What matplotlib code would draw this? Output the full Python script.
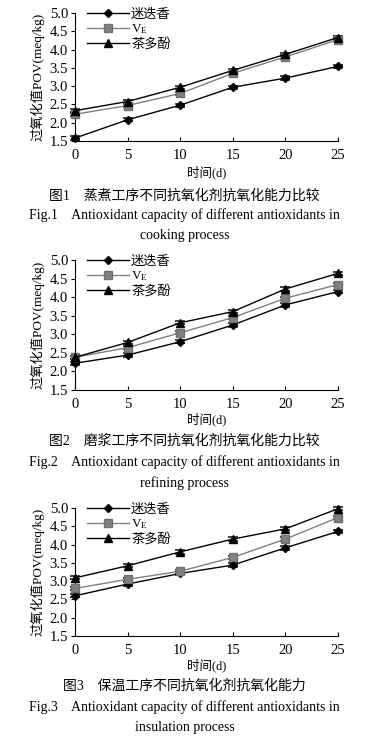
import matplotlib
matplotlib.use('Agg')
import matplotlib.pyplot as plt
from matplotlib.lines import Line2D

plt.rcParams['font.family'] = ['Liberation Serif', 'Noto Sans CJK SC', 'DejaVu Sans']
plt.rcParams['mathtext.fontset'] = 'custom'
plt.rcParams['mathtext.rm'] = 'Liberation Serif'
plt.rcParams['mathtext.it'] = 'Liberation Serif'

# 数据
dias = [0, 5, 10, 15, 20, 25]
series_names = ['迷迭香', 'V$_{\\rm E}$', '茶多酚']

# 图1 蒸煮
cocc_romero = [1.58, 2.08, 2.48, 2.97, 3.22, 3.54]
cocc_ve = [2.23, 2.47, 2.80, 3.35, 3.80, 4.27]
cocc_te = [2.33, 2.58, 2.97, 3.43, 3.87, 4.33]

# 图2 磨浆
mol_romero = [2.22, 2.44, 2.80, 3.25, 3.79, 4.15]
mol_ve = [2.38, 2.64, 3.04, 3.45, 3.97, 4.34]
mol_te = [2.38, 2.78, 3.31, 3.61, 4.22, 4.64]

# 图3 保温
ins_romero = [2.60, 2.92, 3.21, 3.44, 3.91, 4.36]
ins_ve = [2.80, 3.05, 3.27, 3.65, 4.15, 4.74]
ins_te = [3.09, 3.42, 3.80, 4.15, 4.43, 4.98]

yticks = [1.5, 2.0, 2.5, 3.0, 3.5, 4.0, 4.5, 5.0]

titulos = [
    ('图1　蒸煮工序不同抗氧化剂抗氧化能力比较',
     'Fig.1    Antioxidant capacity of different antioxidants in',
     'cooking process'),
    ('图2　磨浆工序不同抗氧化剂抗氧化能力比较',
     'Fig.2    Antioxidant capacity of different antioxidants in',
     'refining process'),
    ('图3　保温工序不同抗氧化剂抗氧化能力',
     'Fig.3    Antioxidant capacity of different antioxidants in',
     'insulation process'),
]

W, H = 369, 744
fig = plt.figure(figsize=(W / 100, H / 100), dpi=100)

# (top px, bottom px) de cada eje
cajas = [(13, 141), (260, 390), (508, 636)]
datos = [
    (cocc_romero, cocc_ve, cocc_te),
    (mol_romero, mol_ve, mol_te),
    (ins_romero, ins_ve, ins_te),
]
# posiciones y (px) de xlabel y títulos
textos_y = [(172, 196, 215, 235), (419, 441, 462, 483), (665, 686, 707, 728)]

estilos = [
    dict(color='black', marker='D', ms=4, mec='black'),
    dict(color='#808080', marker='s', ms=5.5, mec='#707070'),
    dict(color='black', marker='^', ms=5.5, mec='black'),
]

left, right = 75, 338
for i in range(3):
    top, bot = cajas[i]
    ax = fig.add_axes([left / W, 1 - bot / H, (right - left) / W, (bot - top) / H])
    for vals, est in zip(datos[i], estilos):
        ax.errorbar(dias, vals, yerr=0.045, lw=1.0, capsize=3.5, elinewidth=1.0,
                    ecolor='#202020', capthick=1.2, clip_on=False, zorder=3, **est)
    ax.set_xlim(0, 25)
    ax.set_ylim(1.5, 5.0)
    ax.set_xticks(dias)
    ax.set_yticks(yticks)
    ax.set_yticklabels(['%.1f' % y for y in yticks])
    ax.spines['top'].set_visible(False)
    ax.spines['right'].set_visible(False)
    ax.tick_params(axis='y', direction='out', length=3, labelsize=10.5, pad=2)
    ax.tick_params(axis='x', direction='in', length=3, labelsize=10.5, pad=6)
    ax.set_ylabel('过氧化值POV(meq/kg)', fontsize=9.5, labelpad=4)
    handles = [Line2D([], [], lw=1.0, **est) for est in estilos]
    ax.legend(handles, series_names, loc='upper left', bbox_to_anchor=(0.045, 1.035),
              frameon=False, fontsize=9.5, handlelength=3.2, handletextpad=0.15,
              labelspacing=0.12, borderaxespad=0, borderpad=0)
    ylab, t1, t2, t3 = textos_y[i]
    fig.text((left + right) / 2 / W, 1 - ylab / H, '时间(d)', ha='center', va='center', fontsize=9)
    fig.text(0.5, 1 - t1 / H, titulos[i][0], ha='center', va='center', fontsize=10)
    fig.text(0.5, 1 - t2 / H, titulos[i][1], ha='center', va='center', fontsize=10)
    fig.text(0.5, 1 - t3 / H, titulos[i][2], ha='center', va='center', fontsize=10)

plt.savefig('out.png', dpi=100)
plt.close(fig)
